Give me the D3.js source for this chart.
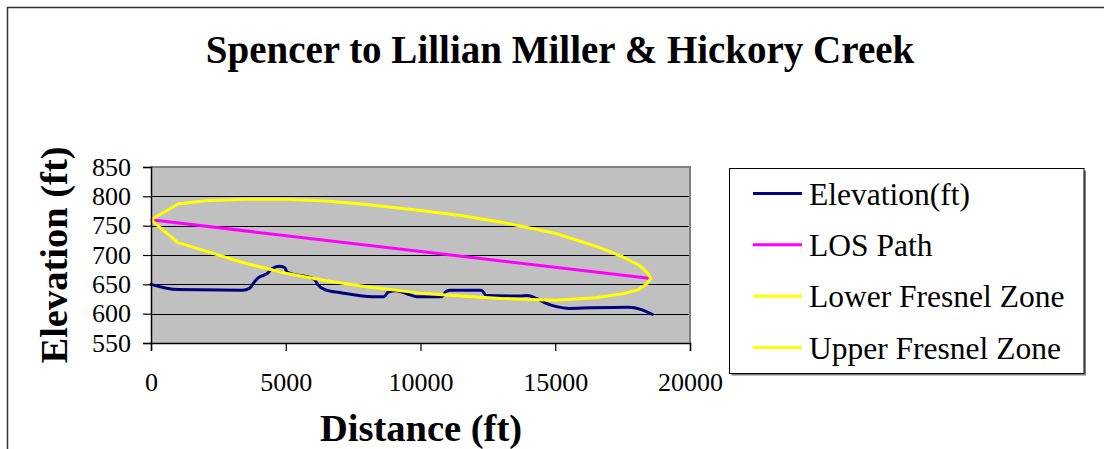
<!DOCTYPE html>
<html>
<head>
<meta charset="utf-8">
<script src="https://cdn.jsdelivr.net/npm/d3@7"></script>
<style>
  html, body { margin: 0; padding: 0; background: #fff; }
  svg { display: block; }
  svg text { font-family: "Liberation Serif", serif !important; fill: #000; }
</style>
</head>
<body>
<svg id="chart" width="1104" height="449"></svg>
<script>
// Path profile: distance along the link (ft) and ground elevation (ft)
const elevDistance = [0, 1000, 3400, 3650, 3850, 4000, 4300, 4500, 4750, 4950, 5050, 6050, 6200, 6450, 7000,
  8250, 8650, 8800, 9100, 9500, 9850, 10800, 10950, 11100, 12250, 12450, 13700, 13950, 14300, 14600,
  15050, 15500, 16300, 17700, 18200, 18600];
const elevation = [650, 641, 640, 643, 655, 662, 668, 677, 681, 679, 671, 659, 649, 641, 636,
  629, 629, 637, 639, 634, 629, 629, 638, 640, 640, 631, 630, 631, 626, 619,
  612, 609, 610, 611, 607, 599];

// Line of sight between the two antennas
const losDistance = [0, 18550];
const losPath = [760, 660];

// First Fresnel zone boundaries
const fresnelDistance = [0, 1000, 2000, 3500, 5000, 6500, 8000, 10000, 11500, 13000, 15000, 16500, 17500, 18100, 18400, 18550];
const lowerFresnel = [760, 721, 707, 686, 669, 656, 646, 635, 630, 626, 623, 627, 634, 641, 651, 660];
const upperFresnel = [760, 787, 792.5, 795, 795, 792, 786, 776, 767.5, 756, 737, 715, 697, 683, 671, 660];

// Axis ticks and labels
const xTicks = [0, 5000, 10000, 15000, 20000];
const yTicks = [550, 600, 650, 700, 750, 800, 850];
const seriesNames = ["Elevation(ft)", "LOS Path", "Lower Fresnel Zone", "Upper Fresnel Zone"];
const seriesColors = ["#000080", "#FF00FF", "#FFFF00", "#FFFF00"];

const chartTitle = "Spencer to Lillian Miller & Hickory Creek";
const xTitle = "Distance (ft)";
const yTitle = "Elevation (ft)";

const FONT = "'Liberation Serif', serif";
const svg = d3.select("#chart").attr("font-family", FONT);

// Outer chart frame (continues past the right and bottom edges)
svg.append("rect")
  .attr("x", 7.5).attr("y", 7.5)
  .attr("width", 1300).attr("height", 700)
  .attr("fill", "#fff").attr("stroke", "#333").attr("stroke-width", 1.5);

const plot = { left: 151, right: 690, top: 167, bottom: 343 };

const x = d3.scaleLinear().domain([0, 20000]).range([plot.left, plot.right]);
const y = d3.scaleLinear().domain([550, 850]).range([plot.bottom, plot.top]);

// Plot area background
svg.append("rect")
  .attr("x", plot.left).attr("y", plot.top)
  .attr("width", plot.right - plot.left).attr("height", plot.bottom - plot.top)
  .attr("fill", "#C0C0C0");

// Horizontal gridlines
svg.append("g").selectAll("line")
  .data(yTicks.filter(v => v > 550 && v < 850))
  .join("line")
  .attr("x1", plot.left).attr("x2", plot.right)
  .attr("y1", d => Math.round(y(d)) + 0.5).attr("y2", d => Math.round(y(d)) + 0.5)
  .attr("stroke", "#000").attr("stroke-width", 1);

// Plot area border (top and right)
svg.append("path")
  .attr("d", `M${plot.left},${plot.top}H${plot.right}V${plot.bottom}`)
  .attr("fill", "none").attr("stroke", "#808080").attr("stroke-width", 2);

// Series
const toPoints = (xs, ys) => xs.map((d, i) => [d, ys[i]]);
const series = [
  { pts: toPoints(elevDistance, elevation), curve: d3.curveMonotoneX },
  { pts: toPoints(losDistance, losPath), curve: d3.curveLinear },
  { pts: toPoints(fresnelDistance, lowerFresnel), curve: d3.curveLinear },
  { pts: toPoints(fresnelDistance, upperFresnel), curve: d3.curveLinear }
];

series.forEach((s, i) => {
  const line = d3.line().x(d => x(d[0])).y(d => y(d[1])).curve(s.curve);
  svg.append("path")
    .datum(s.pts)
    .attr("d", line)
    .attr("fill", "none")
    .attr("stroke", seriesColors[i])
    .attr("stroke-width", 3)
    .attr("stroke-linejoin", "round")
    .attr("stroke-linecap", "round");
});

// Axes
const yAxis = d3.axisLeft(y).tickValues(yTicks).tickFormat(d3.format("d")).tickSize(8).tickPadding(12);
const xAxis = d3.axisBottom(x).tickValues(xTicks).tickFormat(d3.format("d")).tickSize(8).tickPadding(22);

const gy = svg.append("g").attr("transform", `translate(${plot.left},0)`).call(yAxis);
const gx = svg.append("g").attr("transform", `translate(0,${plot.bottom})`).call(xAxis);

[gx, gy].forEach(g => {
  g.attr("font-family", FONT).attr("font-size", 26);
  g.select(".domain").attr("stroke", "#000").attr("stroke-width", 1.5);
  g.selectAll(".tick line").attr("stroke", "#000").attr("stroke-width", 1.2);
  g.selectAll(".tick text")
    .attr("font-family", FONT)
    .attr("font-size", 26).attr("fill", "#000");
});

// Titles
svg.append("text")
  .attr("x", 560).attr("y", 63)
  .attr("text-anchor", "middle")
  .attr("font-size", 39).attr("font-weight", "bold")
  .text(chartTitle);

svg.append("text")
  .attr("x", 421).attr("y", 441)
  .attr("text-anchor", "middle")
  .attr("font-size", 38.5).attr("font-weight", "bold")
  .text(xTitle);

svg.append("text")
  .attr("transform", "translate(67,255) rotate(-90)")
  .attr("text-anchor", "middle")
  .attr("font-size", 38.5).attr("font-weight", "bold")
  .text(yTitle);

// Legend
const legend = { left: 729.5, top: 168.5, right: 1084, bottom: 373.5 };
svg.append("path")
  .attr("d", `M${legend.right + 1},${legend.top + 2}V${legend.bottom + 1}H${legend.left + 2}`)
  .attr("fill", "none").attr("stroke", "#808080").attr("stroke-width", 2);
svg.append("rect")
  .attr("x", legend.left).attr("y", legend.top)
  .attr("width", legend.right - legend.left).attr("height", legend.bottom - legend.top)
  .attr("fill", "#fff").attr("stroke", "#000").attr("stroke-width", 1);

const rowY = d3.scalePoint().domain(seriesNames).range([193.5, 347.5]);
const items = svg.append("g").selectAll("g").data(seriesNames).join("g")
  .attr("transform", d => `translate(0,${rowY(d)})`);
items.append("line")
  .attr("x1", 753).attr("x2", 802)
  .attr("stroke", (d, i) => seriesColors[i]).attr("stroke-width", 3);
items.append("text")
  .attr("x", 809).attr("y", 0).attr("dy", "0.35em")
  .attr("font-size", 31.5)
  .text(d => d);
</script>
</body>
</html>
